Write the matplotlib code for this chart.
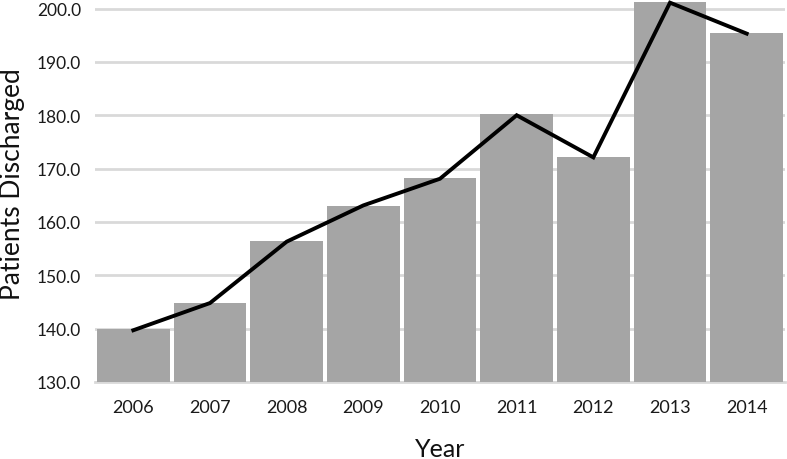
import matplotlib.pyplot as plt

years = ["2006", "2007", "2008", "2009", "2010", "2011", "2012", "2013", "2014"]
bar_values = [140.0, 144.9, 156.5, 163.0, 168.3, 180.2, 172.2, 201.2, 195.5]
line_values = [139.7, 144.8, 156.3, 163.1, 168.1, 180.0, 172.1, 201.1, 195.3]
ytick_values = [130, 140, 150, 160, 170, 180, 190, 200]

plt.rcParams['font.family'] = ['Lato', 'DejaVu Sans']

fig = plt.figure(figsize=(7.87, 4.6), dpi=100)
ax = fig.add_axes([95 / 787, (460 - 383) / 460, 690 / 787, 382 / 460])

x = range(len(years))
ax.bar(x, bar_values, width=0.95, color="#a5a5a5", zorder=2)
ax.plot(x, line_values, color="black", linewidth=2.8, zorder=3,
        solid_joinstyle="miter", clip_on=False)

ax.set_xlim(-0.5, len(years) - 0.5)
ax.set_ylim(130, 201.6)
ax.set_yticks(ytick_values)
ax.set_yticklabels([f"{v:.1f}" for v in ytick_values], fontsize=12.5, color="#1a1a1a")
ax.set_xticks(list(x))
ax.set_xticklabels(years, fontsize=13, color="#1a1a1a")
ax.tick_params(axis="both", length=0)
ax.tick_params(axis="x", pad=12)
ax.tick_params(axis="y", pad=10)

ax.grid(axis="y", color="#d9d9d9", linewidth=2, zorder=0)
for side in ["top", "right", "left"]:
    ax.spines[side].set_visible(False)
ax.spines["bottom"].set_color("#d9d9d9")
ax.spines["bottom"].set_linewidth(2)
ax.spines["bottom"].set_zorder(1)

ax.set_xlabel("Year", fontsize=18, labelpad=16, color="#111111")
# y label placed by hand so it sits where the reference has it
fig.text(13 / 787, 1 - 184 / 460, "Patients Discharged", rotation=90,
         ha="center", va="center", fontsize=19, color="#111111")

fig.savefig("out.png", dpi=100)
